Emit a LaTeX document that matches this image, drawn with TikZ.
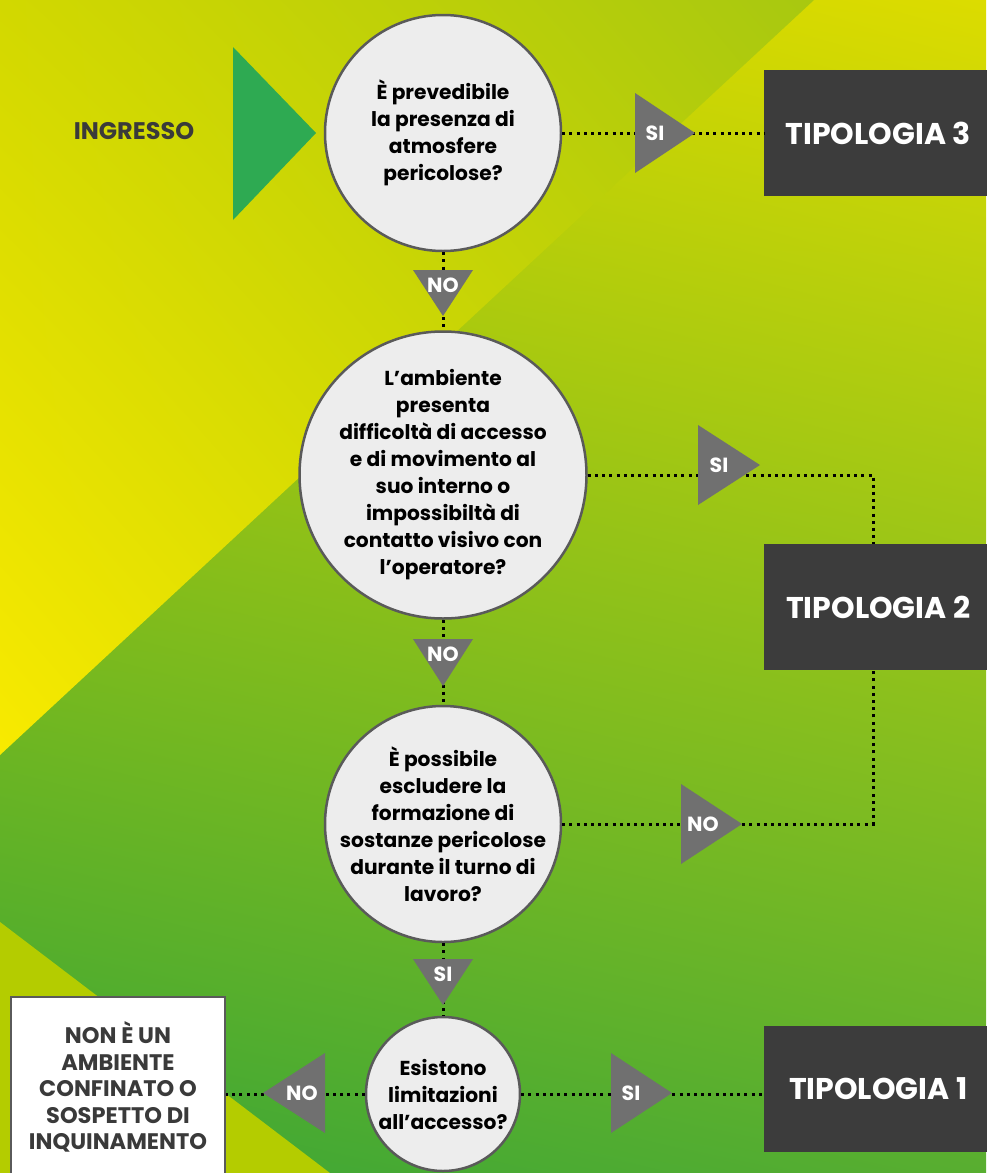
\documentclass[tikz,border=0pt]{standalone}
\usepackage{fontspec}
\setmainfont{Poppins}
\usetikzlibrary{positioning,shadings}

\definecolor{circfill}{HTML}{EDEDED}
\definecolor{circline}{HTML}{5A5A5A}
\definecolor{boxgray}{HTML}{3C3C3C}
\definecolor{trigray}{HTML}{707070}
\definecolor{ingreen}{HTML}{2EAA52}
\definecolor{textgray}{HTML}{3A3A3A}
\definecolor{bgUL}{HTML}{C4D000}
\definecolor{bgUR}{HTML}{DCDC00}
\definecolor{bgLL}{HTML}{3AA636}
\definecolor{bgLR}{HTML}{58AE30}
\definecolor{ylUL}{HTML}{D2D800}
\definecolor{ylUR}{HTML}{A8C810}
\definecolor{ylLL}{HTML}{F8EA00}
\definecolor{ylLR}{HTML}{C8D400}
\definecolor{lime}{HTML}{B4CC00}

\begin{document}
\begin{tikzpicture}[x=1pt, y=-1pt]

\tikzstyle{question}=[circle, draw=circline, fill=circfill, line width=2.5pt, inner sep=-40pt, align=center, text=black, font=\fontsize{20.2}{27}\selectfont\bfseries]
\tikzstyle{typebox}=[rectangle, fill=boxgray, text=white, minimum width=228pt, minimum height=126pt, anchor=west, inner sep=0pt, font=\fontsize{30}{32}\selectfont\bfseries]
\tikzstyle{endbox}=[rectangle, draw=circline, fill=white, line width=2.5pt, text=textgray, minimum width=214pt, minimum height=180pt, inner sep=0pt, align=center, font=\fontsize{22.5}{26.6}\selectfont\bfseries]
\tikzstyle{tag}=[text=white, inner sep=0pt, font=\fontsize{20.5}{22}\selectfont\bfseries]
\tikzstyle{tri}=[fill=trigray]
\tikzstyle{dots}=[line width=3pt, dash pattern=on 3pt off 4.2pt]

\useasboundingbox (0,0) rectangle (986,1173);

\shade[upper left=bgUL, upper right=bgUR, lower left=bgLL, lower right=bgLR] (0,0) rectangle (986,1173);
\shade[upper left=ylUL, upper right=ylUR, lower left=ylLL, lower right=ylLR] (0,0) -- (814,0) -- (0,755) -- cycle;
\fill[lime] (0,922) -- (330,1173) -- (0,1173) -- cycle;

\node (ingresso) [text=textgray, font=\fontsize{24}{26}\selectfont\bfseries] at (134,131) {INGRESSO};
\fill[ingreen] (233,47) -- (316,133) -- (233,220) -- cycle;

\node (q1) [question, minimum size=236pt] at (443,133) {È prevedibile\\la presenza di\\atmosfere\\pericolose?};
\node (q2) [question, minimum size=287pt] at (443,475) {L’ambiente\\presenta\\difficoltà di accesso\\e di movimento al\\suo interno o\\impossibiltà di\\contatto visivo con\\l’operatore?};
\node (q3) [question, minimum size=236pt] at (443,824) {È possibile\\escludere la\\formazione di\\sostanze pericolose\\durante il turno di\\lavoro?};
\node (q4) [question, minimum size=154pt] at (443,1094) {Esistono\\limitazioni\\all’accesso?};

\node (t3) [typebox] at (764,133) {TIPOLOGIA 3};
\node (t2) [typebox] at (764,607) {TIPOLOGIA 2};
\node (t1) [typebox] at (764,1089) {TIPOLOGIA 1};
\node (nonbox) [endbox] at (118,1087) {NON È UN\\AMBIENTE\\CONFINATO O\\SOSPETTO DI\\INQUINAMENTO};

\draw [dots] (q1) -- (t3);
\draw [dots] (q1) -- (q2);
\draw [dots] (q2) -| ([xshift=-5pt]t2.north);
\draw [dots] (q2) -- (q3);
\draw [dots] (q3) -| ([xshift=-5pt]t2.south);
\draw [dots] (q3) -- (q4);
\draw [dots] (q4.east) -- (q4.east -| t1.west);
\draw [dots] (q4.west) -- (q4.west -| nonbox.east);

\fill[tri] (635,93) -- (695,133) -- (635,173) -- cycle;
\node (si1) [tag] at (655,133) {SI};
\fill[tri] (413,270) -- (473,270) -- (443,316) -- cycle;
\node (no1) [tag] at (443,285) {NO};
\fill[tri] (698,425) -- (760,465) -- (698,505) -- cycle;
\node (si2) [tag] at (719,465) {SI};
\fill[tri] (413,639) -- (473,639) -- (443,686) -- cycle;
\node (no2) [tag] at (443,654) {NO};
\fill[tri] (681,784) -- (742,824) -- (681,864) -- cycle;
\node (no3) [tag] at (703,824) {NO};
\fill[tri] (413,959) -- (473,959) -- (443,1005) -- cycle;
\node (si3) [tag] at (443,974) {SI};
\fill[tri] (611,1053) -- (672,1093) -- (611,1133) -- cycle;
\node (si4) [tag] at (631,1093) {SI};
\fill[tri] (325,1053) -- (263,1093) -- (325,1133) -- cycle;
\node (no4) [tag] at (302,1093) {NO};

\end{tikzpicture}
\end{document}
